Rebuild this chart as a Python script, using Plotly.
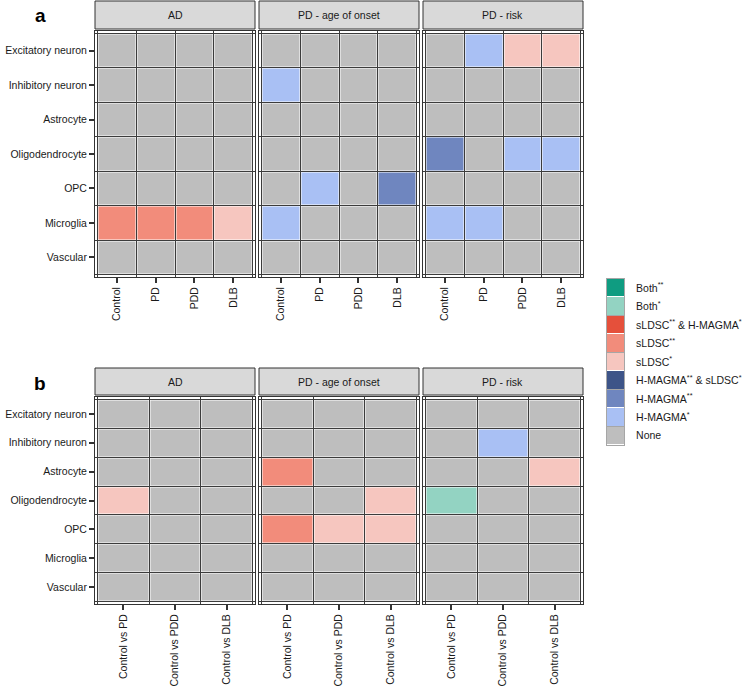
import plotly.graph_objects as go

# ---------------- data ----------------
cell_types = ["Excitatory neuron", "Inhibitory neuron", "Astrocyte", "Oligodendrocyte",
              "OPC", "Microglia", "Vascular"]
groups_a = ["Control", "PD", "PDD", "DLB"]
groups_b = ["Control vs PD", "Control vs PDD", "Control vs DLB"]
gwas_traits = ["AD", "PD - age of onset", "PD - risk"]

categories = ["Both**", "Both*", "sLDSC** & H-MAGMA*", "sLDSC**", "sLDSC*",
              "H-MAGMA** & sLDSC*", "H-MAGMA**", "H-MAGMA*", "None"]
category_labels = ["Both<sup>**</sup>", "Both<sup>*</sup>",
                   "sLDSC<sup>**</sup> & H-MAGMA<sup>*</sup>", "sLDSC<sup>**</sup>",
                   "sLDSC<sup>*</sup>", "H-MAGMA<sup>**</sup> & sLDSC<sup>*</sup>",
                   "H-MAGMA<sup>**</sup>", "H-MAGMA<sup>*</sup>", "None"]
category_colors = ["#0f9c81", "#93d3c2", "#e5503b", "#f28c7b", "#f6c6bf",
                   "#3d5488", "#6f86bf", "#a9c0f4", "#bebebe"]

N = "None"
# panel a (rows = cell_types, cols = groups_a)
a_AD = [
    [N, N, N, N],
    [N, N, N, N],
    [N, N, N, N],
    [N, N, N, N],
    [N, N, N, N],
    ["sLDSC**", "sLDSC**", "sLDSC**", "sLDSC*"],
    [N, N, N, N],
]
a_PD_onset = [
    [N, N, N, N],
    ["H-MAGMA*", N, N, N],
    [N, N, N, N],
    [N, N, N, N],
    [N, "H-MAGMA*", N, "H-MAGMA**"],
    ["H-MAGMA*", N, N, N],
    [N, N, N, N],
]
a_PD_risk = [
    [N, "H-MAGMA*", "sLDSC*", "sLDSC*"],
    [N, N, N, N],
    [N, N, N, N],
    ["H-MAGMA**", N, "H-MAGMA*", "H-MAGMA*"],
    [N, N, N, N],
    ["H-MAGMA*", "H-MAGMA*", N, N],
    [N, N, N, N],
]
# panel b (rows = cell_types, cols = groups_b)
b_AD = [
    [N, N, N],
    [N, N, N],
    [N, N, N],
    ["sLDSC*", N, N],
    [N, N, N],
    [N, N, N],
    [N, N, N],
]
b_PD_onset = [
    [N, N, N],
    [N, N, N],
    ["sLDSC**", N, N],
    [N, N, "sLDSC*"],
    ["sLDSC**", "sLDSC*", "sLDSC*"],
    [N, N, N],
    [N, N, N],
]
b_PD_risk = [
    [N, N, N],
    [N, "H-MAGMA*", N],
    [N, N, "sLDSC*"],
    ["Both*", N, N],
    [N, N, N],
    [N, N, N],
    [N, N, N],
]

# ---------------- layout helpers ----------------
W, H = 749, 691
FONT = "Liberation Sans, Arial, Helvetica, sans-serif"
TXT = "#1a1a1a"


def fx(x):
    return x / W


def fy(y):
    return 1 - y / H


ncat = len(categories)
colorscale = []
for i, c in enumerate(category_colors):
    colorscale.append([i / ncat, c])
    colorscale.append([(i + 1) / ncat, c])

panel_x = [(95, 255), (259, 419), (423, 583)]
rows = [
    dict(strip=(1, 29), body=(31, 277), groups=groups_a,
         data=[a_AD, a_PD_onset, a_PD_risk], label="a", label_y=15),
    dict(strip=(368, 395), body=(397, 604), groups=groups_b,
         data=[b_AD, b_PD_onset, b_PD_risk], label="b", label_y=383),
]

fig = go.Figure()
layout = {}
shapes = []
annotations = []
PAD = 2.5
k = 0
for row in rows:
    groups = row["groups"]
    ncol = len(groups)
    nrow = len(cell_types)
    y0, y1 = row["body"]
    for p, (x0, x1) in enumerate(panel_x):
        k += 1
        sfx = "" if k == 1 else str(k)
        cw = ((x1 - x0) - 2 * PAD) / ncol
        ch = ((y1 - y0) - 2 * PAD) / nrow
        px_ = PAD / cw
        py_ = PAD / ch
        z = [[categories.index(v) for v in r] for r in row["data"][p]]
        fig.add_trace(go.Heatmap(
            z=z, x=list(range(ncol)), y=list(range(nrow)),
            xaxis="x" + sfx, yaxis="y" + sfx,
            colorscale=colorscale, zmin=-0.5, zmax=ncat - 0.5,
            showscale=False, xgap=2, ygap=2, hoverinfo="skip"))
        layout["xaxis" + sfx] = dict(
            domain=[fx(x0), fx(x1)], anchor="y" + sfx,
            range=[-0.5 - px_, ncol - 0.5 + px_],
            tickmode="array", tickvals=list(range(ncol)), ticktext=groups,
            tickangle=-90, ticks="outside", ticklen=5, tickwidth=1.5,
            tickcolor="#333333", showgrid=False, zeroline=False,
            showline=True, mirror=True, linecolor="#333333", linewidth=1,
            tickfont=dict(family=FONT, size=10.5, color=TXT),
            minor=dict(tickmode="array",
                       tickvals=[i - 0.5 for i in range(ncol + 1)],
                       showgrid=True, gridcolor="#3c3c3c", gridwidth=1.2,
                       ticks=""),
            fixedrange=True)
        layout["yaxis" + sfx] = dict(
            domain=[fy(y1), fy(y0)], anchor="x" + sfx,
            range=[nrow - 0.5 + py_, -0.5 - py_],
            tickmode="array", tickvals=list(range(nrow)), ticktext=cell_types,
            showticklabels=(p == 0), ticks="outside" if p == 0 else "",
            ticklen=5, tickwidth=1.5, tickcolor="#333333",
            showgrid=False, zeroline=False,
            showline=True, mirror=True, linecolor="#333333", linewidth=1,
            tickfont=dict(family=FONT, size=10.5, color=TXT),
            minor=dict(tickmode="array",
                       tickvals=[i - 0.5 for i in range(nrow + 1)],
                       showgrid=True, gridcolor="#3c3c3c", gridwidth=1.2,
                       ticks=""),
            fixedrange=True)
        s0, s1 = row["strip"]
        shapes.append(dict(type="rect", xref="paper", yref="paper",
                           x0=fx(x0), x1=fx(x1), y0=fy(s1), y1=fy(s0),
                           fillcolor="#d9d9d9", line=dict(color="#333333", width=1)))
        annotations.append(dict(xref="paper", yref="paper",
                                x=fx((x0 + x1) / 2), y=fy((s0 + s1) / 2),
                                text=gwas_traits[p], showarrow=False,
                                xanchor="center", yanchor="middle",
                                font=dict(family=FONT, size=10.5, color=TXT)))
    annotations.append(dict(xref="paper", yref="paper", x=fx(40), y=fy(row["label_y"]),
                            text="<b>" + row["label"] + "</b>", showarrow=False,
                            xanchor="center", yanchor="middle",
                            font=dict(family=FONT, size=19, color="#000000")))

# ---------------- legend (as a key heatmap) ----------------
k += 1
sfx = str(k)
fig.add_trace(go.Heatmap(
    z=[[i] for i in range(ncat)], x=[0], y=list(range(ncat)),
    xaxis="x" + sfx, yaxis="y" + sfx,
    colorscale=colorscale, zmin=-0.5, zmax=ncat - 0.5,
    showscale=False, xgap=0, ygap=1, hoverinfo="skip"))
layout["xaxis" + sfx] = dict(domain=[fx(607), fx(624)], anchor="y" + sfx,
                             range=[-0.5, 0.5], showticklabels=False, ticks="",
                             showgrid=False, zeroline=False, showline=True, mirror=True,
                             linecolor="#a6a6a6", linewidth=1, fixedrange=True)
layout["yaxis" + sfx] = dict(domain=[fy(445), fy(279)], anchor="x" + sfx,
                             range=[ncat - 0.5, -0.5], side="right",
                             tickmode="array", tickvals=list(range(ncat)),
                             ticktext=category_labels, ticks="outside", ticklen=9,
                             tickcolor="rgba(0,0,0,0)",
                             tickfont=dict(family=FONT, size=10.5, color=TXT),
                             showgrid=False, zeroline=False, showline=True, mirror=True,
                             linecolor="#a6a6a6", linewidth=1,
                             minor=dict(tickmode="array",
                                        tickvals=[i + 0.5 for i in range(ncat - 1)],
                                        showgrid=True, gridcolor="#a6a6a6", gridwidth=1,
                                        ticks=""),
                             fixedrange=True)

fig.update_layout(
    width=W, height=H, margin=dict(l=0, r=0, t=0, b=0),
    paper_bgcolor="white", plot_bgcolor="white",
    showlegend=False, shapes=shapes, annotations=annotations,
    font=dict(family=FONT, size=10.5, color=TXT),
    **layout)

fig.write_html("out.html", config={"displayModeBar": False},
               post_script="document.body.style.margin='0';")
